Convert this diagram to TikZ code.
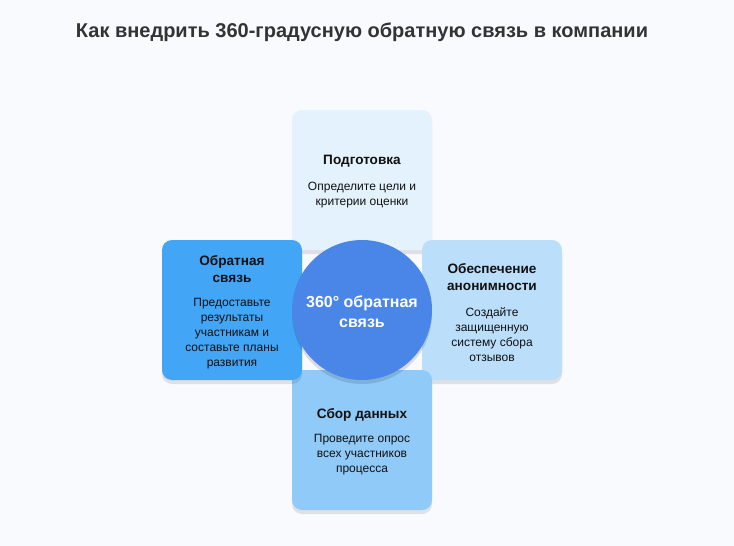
\documentclass[tikz,border=0pt]{standalone}
\usepackage{fontspec}
\setmainfont{Liberation Sans}
\usetikzlibrary{shadows}
\definecolor{bg}{HTML}{F8FAFD}
\definecolor{titlec}{HTML}{333333}
\definecolor{ctop}{HTML}{E3F2FD}
\definecolor{cright}{HTML}{BBDEFB}
\definecolor{cbottom}{HTML}{90CAF9}
\definecolor{cleft}{HTML}{42A5F5}
\definecolor{ccenter}{HTML}{4A86E8}
\definecolor{txt}{HTML}{111111}
\tikzset{
  card/.style={rectangle, rounded corners=10pt, minimum width=140pt, minimum height=140pt, inner sep=0pt,
    drop shadow={shadow xshift=0pt, shadow yshift=-4pt, opacity=0.10, fill=black}},
  hub/.style={circle, minimum size=140pt, inner sep=0pt, fill=ccenter,
    drop shadow={shadow xshift=0pt, shadow yshift=-4pt, opacity=0.12, fill=black}},
  head/.style={align=center, text=txt, font=\bfseries\fontsize{13.6}{17}\selectfont, inner sep=0pt},
  body/.style={align=center, text=txt, font=\fontsize{12}{15}\selectfont, inner sep=0pt},
  hubtext/.style={align=center, text=white, font=\bfseries\fontsize{16}{20}\selectfont, inner sep=0pt},
  titletext/.style={text=titlec, font=\bfseries\fontsize{20}{24}\selectfont, inner sep=0pt}
}
\begin{document}
\begin{tikzpicture}[x=1pt,y=-1pt]
\fill[bg] (0,0) rectangle (734,546);
\useasboundingbox (0,0) rectangle (734,546);
\node[titletext] (title) at (362,32.5) {Как внедрить 360-градусную обратную связь в компании};
% cards
\node[card, fill=ctop] (top) at (362,180) {};
\node[card, fill=cright] (right) at (492,310) {};
\node[card, fill=cbottom] (bottom) at (362,440) {};
\node[card, fill=cleft] (left) at (232,310) {};
\node[hub] (center) at (362,310) {};
% texts
\node[head] (tophead) at (362,161.5) {Подготовка};
\node[body] (topbody) at (362,195.5) {Определите цели и\\критерии оценки};
\node[head] (righthead) at (492,277.5) {Обеспечение\\анонимности};
\node[body] (rightbody) at (492,334.5) {Создайте\\защищенную\\систему сбора\\отзывов};
\node[head] (bottomhead) at (362,414.5) {Сбор данных};
\node[body] (bottombody) at (362,455) {Проведите опрос\\всех участников\\процесса};
\node[head] (lefthead) at (232,269.5) {Обратная\\связь};
\node[body] (leftbody) at (232,334) {Предоставьте\\результаты\\участникам и\\составьте планы\\развития};
\node[hubtext] (centertext) at (362,311.5) {360° обратная\\связь};
\end{tikzpicture}
\end{document}
